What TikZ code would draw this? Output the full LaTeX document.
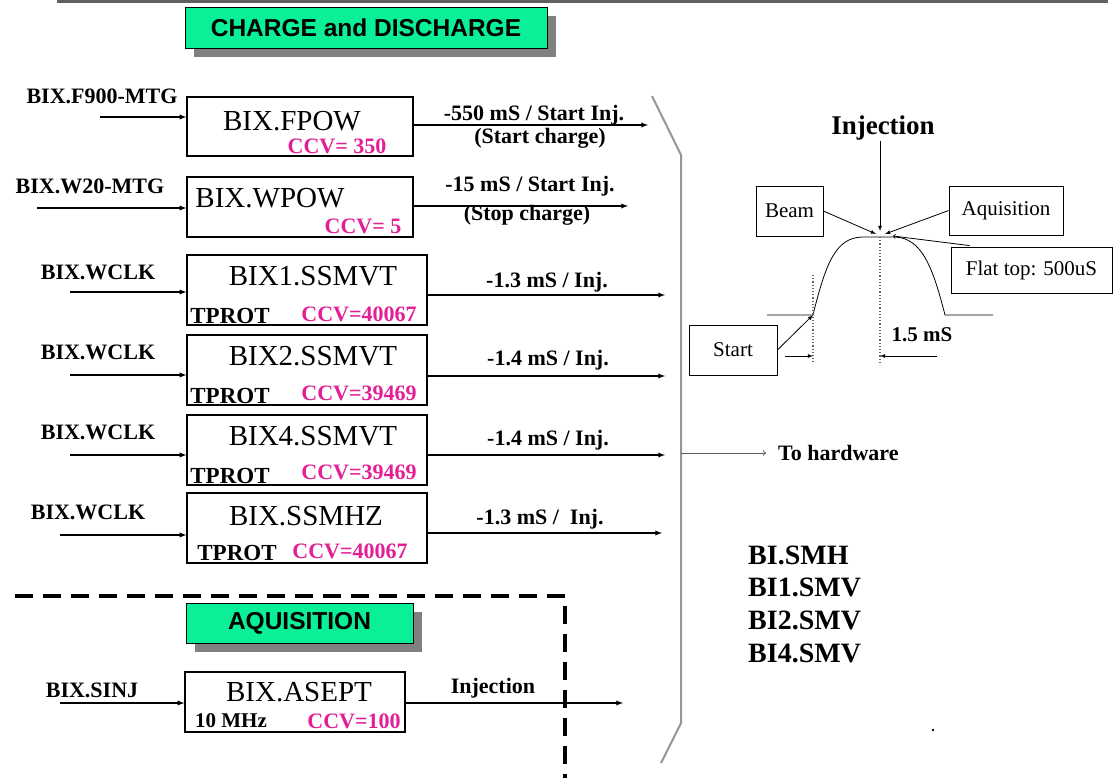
\documentclass[tikz,border=0pt]{standalone}
\usepackage{fontspec}
\setmainfont{Liberation Serif}
\newfontfamily\hdfont{Liberation Sans}
\usetikzlibrary{shadows,arrows}
\definecolor{hdgreen}{RGB}{10,240,150}
\definecolor{ccvpink}{RGB}{228,30,150}
\definecolor{sepgray}{RGB}{150,150,150}
\tikzset{
	blk/.style={draw,line width=1.3pt,inner sep=0pt},
	hdr/.style={draw,line width=1pt,fill=hdgreen,inner sep=0pt,font=\hdfont\fontsize{24.5}{26}\selectfont\bfseries,
		drop shadow={shadow xshift=9pt,shadow yshift=-9pt,fill=gray,opacity=1}},
	ttl/.style={inner sep=1pt,font=\fontsize{29}{31}\selectfont},
	lbl/.style={inner sep=1pt,font=\fontsize{22}{24}\selectfont\bfseries},
	ccv/.style={inner sep=1pt,text=ccvpink,font=\fontsize{22}{24}\selectfont\bfseries},
	tprot/.style={inner sep=1pt,font=\fontsize{23}{25}\selectfont\bfseries},
	cbox/.style={draw,line width=0.8pt,inner sep=0pt,font=\fontsize{21}{24}\selectfont},
	sig/.style={-latex,line width=1.3pt},
	thin/.style={-latex,line width=0.8pt}
}
\begin{document}
\begin{tikzpicture}[x=1pt,y=-1pt]
		\useasboundingbox (0,0) rectangle (1114,778);
		\draw[line width=3pt,gray!75!black] (57,2) -- (1108,2);

		% charge and discharge
		\draw (366,28) node (hcd)[hdr,minimum width=362,minimum height=41]{CHARGE and DISCHARGE};

		\draw (300,126.5) node (fpow)[blk,minimum width=226,minimum height=59]{};
		\draw (292,121) node (fpowt)[ttl]{BIX.FPOW};
		\draw (337,146) node (fpowc)[ccv]{CCV= 350};
		\draw (102,96) node (fpowi)[lbl]{BIX.F900-MTG};
		\coordinate (fpowa) at (100,117);
		\coordinate (fpowo) at (648,125);
		\draw[sig] (fpowa) -- (fpowa -| fpow.west);
		\draw[sig] (fpowo -| fpow.east) -- (fpowo);
		\draw (534,115) node (fpowl)[lbl]{-550 mS / Start Inj.};
		\draw (540,138) node (fpowm)[lbl]{(Start charge)};

		\draw (300,207) node (wpow)[blk,minimum width=226,minimum height=60]{};
		\draw (270,198) node (wpowt)[ttl]{BIX.WPOW};
		\draw (363,226) node (wpowc)[ccv]{CCV= 5};
		\draw (90,186) node (wpowi)[lbl]{BIX.W20-MTG};
		\coordinate (wpowa) at (37,208);
		\coordinate (wpowo) at (628,206);
		\draw[sig] (wpowa) -- (wpowa -| wpow.west);
		\draw[sig] (wpowo -| wpow.east) -- (wpowo);
		\draw (530,186) node (wpowl)[lbl]{-15 mS / Start Inj.};
		\draw (527,215) node (wpowm)[lbl]{(Stop charge)};

		\draw (307,290) node (sv1)[blk,minimum width=240,minimum height=70]{};
		\draw (313,276) node (sv1t)[ttl]{BIX1.SSMVT};
		\draw (230,316) node (sv1p)[tprot]{TPROT};
		\draw (359,314) node (sv1c)[ccv]{CCV=40067};
		\draw (98,272) node (sv1i)[lbl]{BIX.WCLK};
		\coordinate (sv1a) at (70,292);
		\coordinate (sv1o) at (665,295);
		\draw[sig] (sv1a) -- (sv1a -| sv1.west);
		\draw[sig] (sv1o -| sv1.east) -- (sv1o);
		\draw (547,282) node (sv1l)[lbl]{-1.3 mS / Inj.};

		\draw (307,370) node (sv2)[blk,minimum width=240,minimum height=70]{};
		\draw (313,356) node (sv2t)[ttl]{BIX2.SSMVT};
		\draw (230,396) node (sv2p)[tprot]{TPROT};
		\draw (359,393) node (sv2c)[ccv]{CCV=39469};
		\draw (98,352) node (sv2i)[lbl]{BIX.WCLK};
		\coordinate (sv2a) at (70,375);
		\coordinate (sv2o) at (665,376);
		\draw[sig] (sv2a) -- (sv2a -| sv2.west);
		\draw[sig] (sv2o -| sv2.east) -- (sv2o);
		\draw (548,360) node (sv2l)[lbl]{-1.4 mS / Inj.};

		\draw (307,450) node (sv4)[blk,minimum width=240,minimum height=70]{};
		\draw (313,436) node (sv4t)[ttl]{BIX4.SSMVT};
		\draw (230,476) node (sv4p)[tprot]{TPROT};
		\draw (359,472) node (sv4c)[ccv]{CCV=39469};
		\draw (98,432) node (sv4i)[lbl]{BIX.WCLK};
		\coordinate (sv4a) at (70,455);
		\coordinate (sv4o) at (665,455);
		\draw[sig] (sv4a) -- (sv4a -| sv4.west);
		\draw[sig] (sv4o -| sv4.east) -- (sv4o);
		\draw (548,440) node (sv4l)[lbl]{-1.4 mS / Inj.};

		\draw (307,528) node (shz)[blk,minimum width=240,minimum height=70]{};
		\draw (306,516) node (shzt)[ttl]{BIX.SSMHZ};
		\draw (237,553) node (shzp)[tprot]{TPROT};
		\draw (350,551) node (shzc)[ccv]{CCV=40067};
		\draw (88,512) node (shzi)[lbl]{BIX.WCLK};
		\coordinate (shza) at (60,535);
		\coordinate (shzo) at (662,533);
		\draw[sig] (shza) -- (shza -| shz.west);
		\draw[sig] (shzo -| shz.east) -- (shzo);
		\draw (540,519) node (shzl)[lbl]{-1.3 mS /\ \ Inj.};

		% aquisition
		\draw[line width=4pt,dash pattern=on 18pt off 10pt] (15,596) -- (565,596) -- (565,778);
		\draw (299.5,623) node (haq)[hdr,minimum width=227,minimum height=40]{AQUISITION};

		\draw (295,702) node (asp)[blk,minimum width=220,minimum height=60]{};
		\draw (299,692) node (aspt)[ttl]{BIX.ASEPT};
		\draw (231,721) node (aspf)[lbl,font=\fontsize{21}{23}\selectfont\bfseries]{10 MHz};
		\draw (354,721) node (aspc)[ccv]{CCV=100};
		\draw (92,690) node (aspi)[lbl]{BIX.SINJ};
		\coordinate (aspa) at (60,703);
		\coordinate (aspo) at (623,703);
		\draw[sig] (aspa) -- (aspa -| asp.west);
		\draw[sig] (aspo -| asp.east) -- (aspo);
		\draw (493,688) node (aspl)[lbl]{Injection};

		% separator and hardware
		\draw[sepgray,line width=2pt] (652,96) -- (681,155) -- (681,723) -- (661,763);
		\coordinate (hwa) at (681,453);
		\draw (777,453) node (hw)[lbl,anchor=west]{To hardware};
		\draw[sepgray!60!black,line width=1pt,->,shorten >=11pt] (hwa) -- (hw.west);
		\draw (748,604) node (smlist)[anchor=west,align=left,inner sep=0pt,
			font=\fontsize{28}{32.7}\selectfont\bfseries]{BI.SMH\\BI1.SMV\\BI2.SMV\\BI4.SMV};
		\fill (933,730) circle (1.3);

		% pulse
		\draw (883,128) node (inj)[inner sep=1pt,font=\fontsize{27}{30}\selectfont\bfseries]{Injection};
		\draw[line width=0.8pt] (767,315) -- (813,315) .. controls (826,262) and (836,238) .. (862,237)
			-- (895,237) .. controls (922,238) and (933,268) .. (945,315) -- (993,315);
		\draw[dotted,line width=1.2pt,gray!80!black] (813,275) -- (813,362);
		\draw[dotted,line width=1.2pt,gray!80!black] (880,237) -- (880,365);
		\coordinate (ptop) at (880,231);
		\coordinate (pbm) at (876,234);
		\coordinate (paq) at (885,234);
		\coordinate (pft) at (893,236);
		\coordinate (pst) at (813,315);
		\draw (789.5,211) node (beam)[cbox,minimum width=67,minimum height=50]{Beam};
		\draw (1006,210.5) node (aq)[cbox,minimum width=114,minimum height=49]{Aquisition};
		\draw (1031.5,270) node (ft)[cbox,minimum width=161,minimum height=46]{Flat top: 500uS};
		\draw (733,350) node (st)[cbox,minimum width=88,minimum height=50]{Start};
		\draw[thin] (inj.south -| ptop) -- (ptop);
		\draw[thin] (beam.east) -- (pbm);
		\draw[thin] (aq.west) -- (paq);
		\draw[line width=0.8pt,->] (ft.north west) ++(19,-1) -- (pft);
		\draw[thin] (st.east) -- (pst);
		\coordinate (dl) at (785,356);
		\coordinate (dr) at (937,356);
		\draw[thin] (dl) -- (dl -| pst);
		\draw[thin] (dr) -- (dr -| ptop);
		\draw (922,335) node (dim)[lbl,font=\fontsize{21}{24}\selectfont\bfseries]{1.5 mS};
	\end{tikzpicture}
\end{document}
